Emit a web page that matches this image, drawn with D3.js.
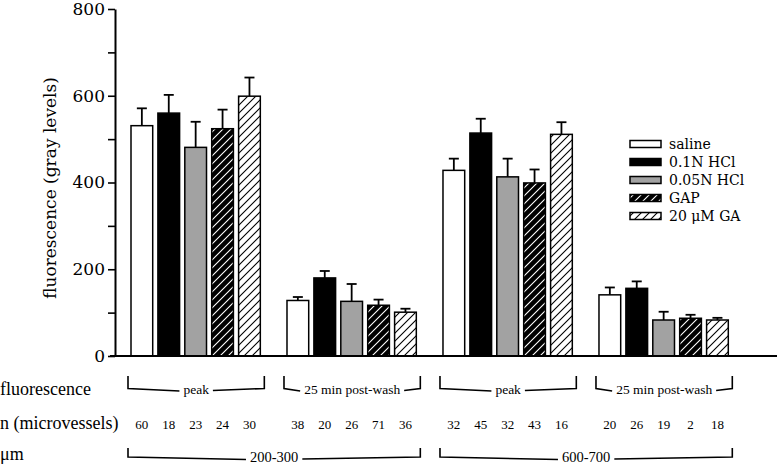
<!DOCTYPE html>
<html><head><meta charset="utf-8">
<script src="https://cdn.jsdelivr.net/npm/d3@7"></script>
<style>body{margin:0;background:#fff}svg{display:block}</style>
</head><body><svg id="c" width="777" height="465"></svg>
<script>
// ---- data ----
const groups = ["200-300 peak", "200-300 post", "600-700 peak", "600-700 post"];
const series = ["saline", "0.1N HCl", "0.05N HCl", "GAP", "20 \u03BCM GA"];
const means = [
  [531, 560, 481, 524, 599],
  [128, 180, 126, 117, 101],
  [428, 514, 413, 399, 511],
  [141, 156, 83, 87, 83]
];
const errors = [
  [40, 42, 59, 44, 43],
  [8, 16, 40, 13, 8],
  [27, 33, 42, 31, 28],
  [17, 16, 19, 8, 5]
];
const nCounts = [
  [60, 18, 23, 24, 30],
  [38, 20, 26, 71, 36],
  [32, 45, 32, 43, 16],
  [20, 26, 19, 2, 18]
];
const timeLabels = ["peak", "25 min post-wash", "peak", "25 min post-wash"];
const sizeLabels = ["200-300", "600-700"];
const yTicks = [0, 100, 200, 300, 400, 500, 600, 700, 800];

// ---- drawing ----
const svg = d3.select("#c");
const serifA = "'DejaVu Serif', 'Liberation Serif', serif";
const serifB = "'Liberation Serif', 'Times New Roman', serif";

const y = d3.scaleLinear().domain([0, 800]).range([356, 9]);
const x0 = d3.scaleBand().domain(groups).range([131, 728.3]).paddingInner(0.171).paddingOuter(0);
const x1 = d3.scaleBand().domain(series).range([0, x0.bandwidth()]).paddingInner(0.193).paddingOuter(0);

const defs = svg.append("defs");
function hatch(id, bg, fg) {
  const p = defs.append("pattern").attr("id", id).attr("patternUnits", "userSpaceOnUse")
    .attr("width", 8).attr("height", 8);
  p.append("rect").attr("width", 8).attr("height", 8).attr("fill", bg);
  p.append("path").attr("d", "M0,8 L8,0 M-2,2 L2,-2 M6,10 L10,6")
    .attr("stroke", fg).attr("stroke-width", 1.1);
}
hatch("hGAP", "#000", "#fff");
hatch("hGA", "#fff", "#000");
const fills = ["#fff", "#000", "#a2a2a2", "url(#hGAP)", "url(#hGA)"];

// bars
const g = svg.append("g");
groups.forEach((grp, gi) => {
  series.forEach((s, si) => {
    const bx = x0(grp) + x1(s);
    const bw = x1.bandwidth();
    const v = means[gi][si], e = errors[gi][si];
    const cx = bx + bw / 2;
    g.append("line").attr("x1", cx).attr("x2", cx).attr("y1", y(v)).attr("y2", y(v + e))
      .attr("stroke", "#000").attr("stroke-width", 1.8);
    g.append("line").attr("x1", cx - 5).attr("x2", cx + 5).attr("y1", y(v + e)).attr("y2", y(v + e))
      .attr("stroke", "#000").attr("stroke-width", 1.8);
    g.append("rect").attr("x", bx).attr("y", y(v)).attr("width", bw).attr("height", y(0) - y(v))
      .attr("fill", fills[si]).attr("stroke", "#000").attr("stroke-width", 1.5);
  });
});

// y axis
const yAxis = d3.axisLeft(y).tickValues(yTicks).tickSize(7).tickSizeOuter(0).tickPadding(3)
  .tickFormat(d => d % 200 === 0 ? String(d) : "");
const ya = svg.append("g").attr("transform", "translate(115,0)").call(yAxis);
ya.select(".domain").attr("stroke-width", 2).attr("stroke", "#000");
ya.selectAll(".tick line").attr("stroke-width", 1.6).attr("stroke", "#000");
ya.selectAll(".tick text").attr("font-family", serifA).attr("font-size", 17).attr("fill", "#000");

// x baseline
svg.append("line").attr("x1", 110).attr("x2", 777).attr("y1", y(0)).attr("y2", y(0))
  .attr("stroke", "#000").attr("stroke-width", 2);

// y title
svg.append("text").attr("transform", "translate(56,188) rotate(-90)")
  .attr("text-anchor", "middle").attr("font-family", serifA).attr("font-size", 17)
  .text("fluorescence (gray levels)");

// legend
const lg = svg.append("g").attr("transform", "translate(630,144)");
series.forEach((s, i) => {
  const row = lg.append("g").attr("transform", `translate(0,${i * 18})`);
  row.append("rect").attr("x", 0).attr("y", -3.5).attr("width", 31).attr("height", 7)
    .attr("fill", fills[i]).attr("stroke", "#000").attr("stroke-width", 1.5);
  row.append("text").attr("x", 39).attr("y", 5).attr("font-family", serifA).attr("font-size", 14)
    .text(s);
});

// bottom annotations
const leftLbl = [["fluorescence", 395], ["n (microvessels)", 429], ["\u03BCm", 460]];
leftLbl.forEach(([t, yy]) => svg.append("text").attr("x", 0).attr("y", yy)
  .attr("font-family", serifB).attr("font-size", 18).text(t));

function bracket(xL, xR, top, bot, label, yText, fs) {
  const cx = (xL + xR) / 2;
  const t = svg.append("text").attr("x", cx).attr("y", yText).attr("text-anchor", "middle")
    .attr("font-family", serifB).attr("font-size", fs).text(label);
  const w = t.node().getComputedTextLength();
  const a = cx - w / 2 - 4, b = cx + w / 2 + 4;
  svg.append("path").attr("d", `M${xL},${top} L${xL},${bot} L${a},${bot + 2.5}`)
    .attr("fill", "none").attr("stroke", "#000").attr("stroke-width", 1.6);
  svg.append("path").attr("d", `M${b},${bot + 2} L${xR},${bot} L${xR},${top}`)
    .attr("fill", "none").attr("stroke", "#000").attr("stroke-width", 1.6);
}
groups.forEach((grp, gi) => {
  const xL = x0(grp) - 3, xR = x0(grp) + x0.bandwidth() + 4;
  bracket(xL, xR, 376, 388.5, timeLabels[gi], 394, 13.5);
  series.forEach((s, si) => {
    svg.append("text").attr("x", x0(grp) + x1(s) + x1.bandwidth() / 2).attr("y", 428.5)
      .attr("text-anchor", "middle").attr("font-family", serifB).attr("font-size", 13)
      .text(nCounts[gi][si]);
  });
});
sizeLabels.forEach((lab, i) => {
  const gA = groups[i * 2], gB = groups[i * 2 + 1];
  const xL = x0(gA) - 3, xR = x0(gB) + x0.bandwidth() + 4;
  bracket(xL, xR, 448, 457, lab, 462, 14.5);
});
</script></body></html>
